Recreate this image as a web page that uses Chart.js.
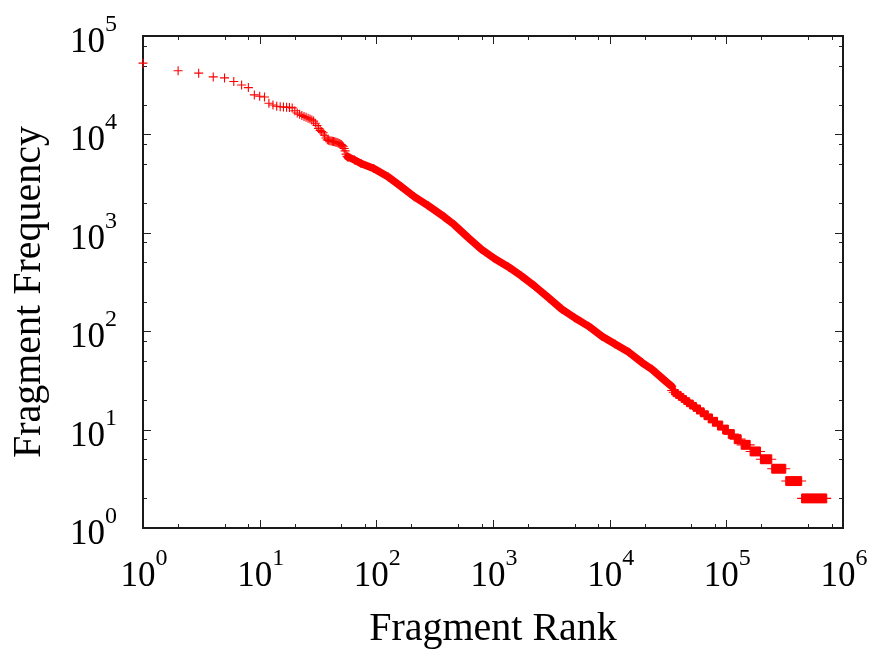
<!DOCTYPE html>
<html>
<head>
<meta charset="utf-8">
<script src="https://cdn.jsdelivr.net/npm/chart.js@4.4.1/dist/chart.umd.min.js"></script>
<style>
  html, body { margin: 0; padding: 0; background: #ffffff; }
  #c { display: block; }
</style>
</head>
<body>
<canvas id="c" width="873" height="650"></canvas>
<script>
// ---- data ----
// Individual top-ranked fragments (rank, frequency)
const headRank = [1,2,3,4,5,6,7,8,9,10,11,12,13,14,15,16,17,18,19,20,
  21,22,23,24,25,26,27,28,29,30,31,32,33,34,35,36,37,38,39,40,
  41,42,43,44,45,46,47,48,49,50,51,52,53,54,55,56,57];
const headFreq = [53000,44300,41900,38400,37500,34500,31800,29900,25200,24400,
  24000,20700,19900,19300,19100,19000,18900,18800,18600,17400,
  16500,16000,15600,15200,14900,14600,14300,14000,13700,13000,
  12300,11500,11000,10700,10400,9800,9200,8800,8700,8600,
  8550,8500,8450,8400,8300,8250,8200,8100,8000,7900,
  7700,7500,7200,6800,6300,6000,5900];

// Dense middle of the curve (rank, frequency) along the band
const bandRank = [57,65,74,95,126,163,211,278,382,465,614,794,1028,1357,1755,2270,
  3000,3880,5010,6620,8570,11090,14640,18930,23070,30600,34000];
const bandFreq = [5900,5500,5060,4500,3720,2950,2330,1890,1450,1210,890,680,548,450,364,288,
  218,168,137,112,89,74,61,48,41,30.6,27.5];

// Low-frequency tail: frequency level and the last rank holding it
const levelFreq = [25,24,23,22,21,20,19,18,17,16,15,14,13,12,11,10,9,8,7,6,5,4,3,2];
const levelEnd  = [35000,36800,38800,41000,43200,45500,48500,52000,55500,60000,64500,70000,
  76000,84000,93000,104000,117000,134000,160000,196000,245000,323000,442000,725000];

// Axis decades
const xTickExp = [0,1,2,3,4,5,6];
const yTickExp = [0,1,2,3,4,5];
const minorMult = [2,5,8];
const xTitle = 'Fragment Rank';
const yTitle = 'Fragment Frequency';

// ---- build datasets ----
const RED = '#ff0000';
const markerOpts = {
  pointStyle: 'cross', pointRadius: 4.5, pointHoverRadius: 4.5,
  pointBorderColor: RED, pointBackgroundColor: RED, pointBorderWidth: 1.1
};
const datasets = [];
datasets.push(Object.assign({
  label: 'head',
  data: headRank.map((r, i) => ({x: r, y: headFreq[i]})),
  showLine: false, clip: false
}, markerOpts));
datasets.push(Object.assign({
  label: 'band',
  data: bandRank.map((r, i) => ({x: r, y: bandFreq[i]})),
  showLine: true, borderColor: RED, borderWidth: 7.5,
  borderJoinStyle: 'round', borderCapStyle: 'round', tension: 0, clip: false
}, markerOpts));
let prevEnd = bandRank[bandRank.length - 1];
levelFreq.forEach((f, i) => {
  datasets.push(Object.assign({
    label: 'f' + f,
    data: [{x: prevEnd, y: f}, {x: levelEnd[i], y: f}],
    showLine: true, borderColor: RED, borderWidth: 10,
    borderCapStyle: 'butt', tension: 0, clip: false
  }, markerOpts));
  prevEnd = levelEnd[i];
});

// ---- frame, ticks, labels ----
const SERIF = '"Liberation Serif", "DejaVu Serif", serif';
const framePlugin = {
  id: 'gnuframe',
  beforeDatasetsDraw(chart) {
    const ctx = chart.ctx, a = chart.chartArea;
    const xs = chart.scales.x, ys = chart.scales.y;
    ctx.save();
    ctx.strokeStyle = '#222';
    ctx.lineWidth = 1;
    const tick = (x1, y1, x2, y2) => { ctx.beginPath(); ctx.moveTo(x1, y1); ctx.lineTo(x2, y2); ctx.stroke(); };
    xTickExp.forEach(e => {
      const v = Math.pow(10, e);
      const px = Math.round(xs.getPixelForValue(v)) + 0.5;
      tick(px, a.bottom, px, a.bottom - 8);
      tick(px, a.top, px, a.top + 8);
      if (e < xTickExp[xTickExp.length - 1]) {
        minorMult.forEach(m => {
          const mx = Math.round(xs.getPixelForValue(m * v)) + 0.5;
          tick(mx, a.bottom, mx, a.bottom - 4);
          tick(mx, a.top, mx, a.top + 4);
        });
      }
    });
    yTickExp.forEach(e => {
      const v = Math.pow(10, e);
      const py = Math.round(ys.getPixelForValue(v)) + 0.5;
      tick(a.left, py, a.left + 8, py);
      tick(a.right, py, a.right - 8, py);
      if (e < yTickExp[yTickExp.length - 1]) {
        minorMult.forEach(m => {
          const my = Math.round(ys.getPixelForValue(m * v)) + 0.5;
          tick(a.left, my, a.left + 4, my);
          tick(a.right, my, a.right - 4, my);
        });
      }
    });
    ctx.lineWidth = 2;
    ctx.strokeStyle = '#1a1a1a';
    ctx.strokeRect(a.left, a.top, a.right - a.left, a.bottom - a.top);
    ctx.restore();
  },
  afterDraw(chart) {
    const ctx = chart.ctx, a = chart.chartArea;
    const xs = chart.scales.x, ys = chart.scales.y;
    ctx.save();
    ctx.fillStyle = '#000';
    ctx.textBaseline = 'alphabetic';
    const baseFont = '35px ' + SERIF, supFont = '24px ' + SERIF;
    const drawPow = (e, left, base) => {
      ctx.font = baseFont;
      ctx.textAlign = 'left';
      ctx.fillText('10', left, base);
      const w = ctx.measureText('10').width;
      ctx.font = supFont;
      ctx.fillText(String(e), left + w, base - 21);
    };
    const powWidth = e => {
      ctx.font = baseFont; const w1 = ctx.measureText('10').width;
      ctx.font = supFont; const w2 = ctx.measureText(String(e)).width;
      return w1 + w2;
    };
    xTickExp.forEach(e => {
      const px = xs.getPixelForValue(Math.pow(10, e));
      const w = powWidth(e);
      drawPow(e, px - w / 2 + 1, a.bottom + 58);
    });
    yTickExp.forEach(e => {
      const py = ys.getPixelForValue(Math.pow(10, e));
      const w = powWidth(e);
      drawPow(e, a.left - 26 - w, py + 16);
    });
    ctx.font = '40px ' + SERIF;
    ctx.textAlign = 'center';
    ctx.fillText(xTitle, (a.left + a.right) / 2, 640);
    ctx.translate(40, 292);
    ctx.rotate(-Math.PI / 2);
    ctx.fillText(yTitle, 0, 0);
    ctx.restore();
  }
};

new Chart(document.getElementById('c'), {
  type: 'scatter',
  data: { datasets },
  options: {
    responsive: false,
    animation: false,
    devicePixelRatio: 1,
    layout: { padding: { left: 143, top: 36, right: 30, bottom: 122 } },
    plugins: { legend: { display: false }, tooltip: { enabled: false } },
    scales: {
      x: { type: 'logarithmic', min: 1, max: 1e6, display: false },
      y: { type: 'logarithmic', min: 1, max: 1e5, display: false }
    }
  },
  plugins: [framePlugin]
});
</script>
</body>
</html>
